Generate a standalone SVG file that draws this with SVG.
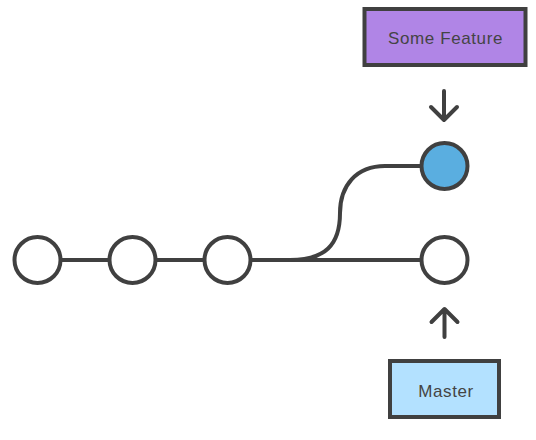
<svg xmlns="http://www.w3.org/2000/svg" width="536" height="440" viewBox="0 0 536 440">
<style>
.ln{fill:none;stroke:#404040;stroke-width:4;stroke-linecap:round;stroke-linejoin:round}
.c{fill:#fff;stroke:#404040;stroke-width:4}
.box{stroke:#404040;stroke-width:4}
.t{font-family:"Liberation Sans",Arial,sans-serif;font-size:17px;letter-spacing:0.6px;fill:#444;text-anchor:middle}
</style>
<rect width="536" height="440" fill="#fff"/>
<g id="connectors">
<path class="ln" d="M60 260 L110 260"/>
<path class="ln" d="M155 260 L205 260"/>
<path class="ln" d="M250 260 L421 260"/>
<path class="ln" d="M290 260 C325 260 340 245 340 213 C340 186 356 166 385 166 L421 166"/>
<path class="ln" d="M444 91 L444 120 M431 107 L444 120 L457 107"/>
<path class="ln" d="M444.5 337 L444.5 309 M431.5 322 L444.5 309 L457.5 322"/>
</g>
<g id="c1"><circle class="c" cx="37.5" cy="260" r="23"/></g>
<g id="c2"><circle class="c" cx="132.5" cy="260" r="23"/></g>
<g id="c3"><circle class="c" cx="227.5" cy="260" r="23"/></g>
<g id="c4"><circle class="c" cx="444.5" cy="260" r="23"/></g>
<g id="c5"><circle class="c" cx="444.5" cy="166" r="23" fill="#5AAEE0" style="fill:#5AAEE0"/></g>
<g id="feature">
<rect class="box" x="364.5" y="9" width="161" height="56" fill="#B085E6"/>
<text class="t" x="445.5" y="44.3">Some Feature</text>
</g>
<g id="master">
<rect class="box" x="390" y="361" width="109" height="56" fill="#B3E1FF"/>
<text class="t" x="446" y="396.7">Master</text>
</g>
</svg>
